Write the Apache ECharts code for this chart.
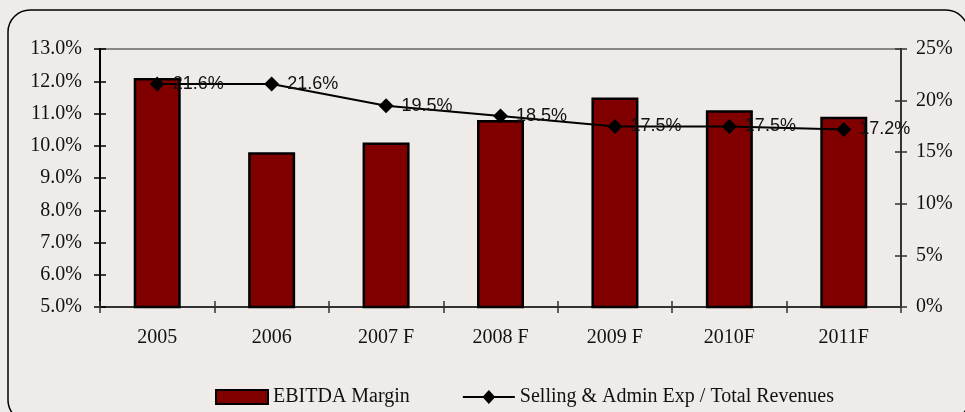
<!DOCTYPE html>
<html>
  <head>
    <meta charset="utf-8" />
    <title>EBITDA margin</title>
    <script src="https://cdn.jsdelivr.net/npm/echarts@6/dist/echarts.min.js"></script>
    <style>
      body { margin: 0; background: #efebe8; }
    </style>
  </head>
  <body>
    <div id="chart" style="width: 965px; height: 412px"></div>

    <script type="text/javascript">
// Data
const years = ['2005', '2006', '2007 F', '2008 F', '2009 F', '2010F', '2011F'];
const ebitda_margin = [12.1, 9.8, 10.1, 10.8, 11.5, 11.1, 10.9];
const sga_ratio = [21.6, 21.6, 19.5, 18.5, 17.5, 17.5, 17.2];

const serif = 'Liberation Serif';
const sans = 'Liberation Sans';

// ticks cross the axis line, so each axis gets an invisible twin with inside ticks
function valueAxis(position, min, max, interval, fmt, inside, color, margin) {
  return {
    type: 'value',
    position: position,
    min: min,
    max: max,
    interval: interval,
    splitLine: { show: false },
    axisLine: { show: true, lineStyle: { color: color, width: 2 } },
    axisTick: { show: true, inside: inside, length: 6, lineStyle: { color: color, width: 1.5 } },
    axisLabel: {
      show: !inside,
      formatter: fmt,
      margin: margin,
      fontFamily: serif,
      fontSize: 20,
      color: '#111'
    }
  };
}

function catAxis(inside) {
  return {
    type: 'category',
    position: 'bottom',
    data: years,
    boundaryGap: true,
    axisLine: { show: true, onZero: false, lineStyle: { color: '#333', width: 2 } },
    axisTick: { show: true, inside: inside, length: 6, lineStyle: { color: '#333', width: 1.5 } },
    axisLabel: {
      show: !inside,
      margin: 21,
      fontFamily: serif,
      fontSize: 20,
      color: '#111'
    }
  };
}

const leftFmt = (v) => v.toFixed(1) + '%';
const rightFmt = (v) => v + '%';

// line + diamond legend marker
const lineIcon = 'path://M0,6H20.5L26,0L31.5,6H52V8H31.5L26,14L20.5,8H0Z';

const option = {
  backgroundColor: '#efebe8',
  animation: false,
  graphic: [{
    type: 'rect',
    shape: { x: 8, y: 10, width: 960, height: 412, r: 22 },
    style: { fill: null, stroke: '#000', lineWidth: 1.5 },
    silent: true
  }],
  grid: {
    left: 100,
    right: 64,
    top: 49,
    bottom: 105,
    show: true,
    borderColor: '#888',
    borderWidth: 2,
    backgroundColor: 'transparent'
  },
  legend: {
    left: 210,
    top: 382,
    itemWidth: 52,
    itemHeight: 14,
    itemGap: 53,
    textStyle: { fontFamily: serif, fontSize: 20, color: '#111' },
    data: [
      { name: 'EBITDA Margin', icon: 'rect' },
      { name: 'Selling & Admin Exp / Total Revenues', icon: lineIcon }
    ]
  },
  xAxis: [catAxis(false), catAxis(true)],
  yAxis: [
    valueAxis('left', 5, 13, 1, leftFmt, false, '#000', 18),
    valueAxis('left', 5, 13, 1, leftFmt, true, '#000', 18),
    valueAxis('right', 0, 25, 5, rightFmt, false, '#333', 15),
    valueAxis('right', 0, 25, 5, rightFmt, true, '#333', 15)
  ],
  series: [
    {
      name: 'EBITDA Margin',
      type: 'bar',
      xAxisIndex: 0,
      yAxisIndex: 0,
      data: ebitda_margin,
      barWidth: 47,
      itemStyle: { color: '#800000', borderColor: '#000', borderWidth: 2.5 }
    },
    {
      name: 'Selling & Admin Exp / Total Revenues',
      type: 'line',
      xAxisIndex: 0,
      yAxisIndex: 2,
      data: sga_ratio,
      symbol: 'diamond',
      symbolSize: 15,
      lineStyle: { color: '#000', width: 2 },
      itemStyle: { color: '#000' },
      label: {
        show: true,
        position: 'right',
        distance: 8,
        formatter: (p) => p.value.toFixed(1) + '%',
        fontFamily: sans,
        fontSize: 18,
        color: '#111'
      }
    }
  ]
};

const chart = echarts.init(document.getElementById('chart'));
chart.setOption(option);
    </script>
  </body>
</html>
